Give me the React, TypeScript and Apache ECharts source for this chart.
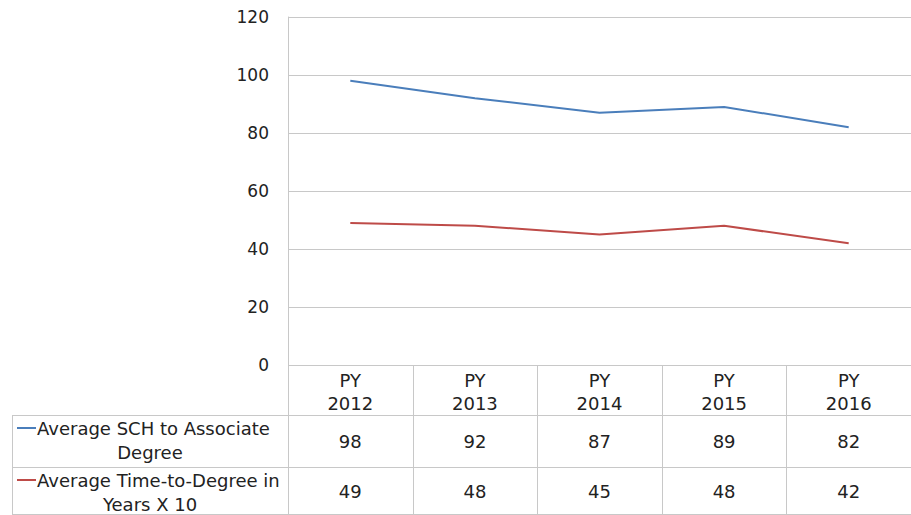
import React, { useEffect, useRef } from "react";
import * as echarts from "echarts";

const categories = ["PY\n2012", "PY\n2013", "PY\n2014", "PY\n2015", "PY\n2016"];
const sch = [98, 92, 87, 89, 82];
const ttd = [49, 48, 45, 48, 42];
const seriesNames = ["Average SCH to Associate Degree", "Average Time-to-Degree in Years X 10"];
const labelLines = [["Average SCH to Associate", "Degree"], ["Average Time-to-Degree in", "Years X 10"]];
const colors = ["#4a7ebb", "#be4b48"];

const W = 911, H = 515;
const GL = 288, GR = 911, GT = 17, GB = 365;
const ROW1 = 415, ROW2 = 467, TL = 12;
const FONT = "'DejaVu Sans', sans-serif";
const GRID_C = "#c8c8c8";
const TXT = "#222";

export default function App() {
  const ref = useRef<HTMLDivElement>(null);
  useEffect(() => {
    const chart = echarts.init(ref.current!, null, { renderer: "svg" });
    const n = categories.length;
    const cw = (GR - GL) / n;
    const g: any[] = [];
    const line = (x1: number, y1: number, x2: number, y2: number) =>
      g.push({ type: "line", shape: { x1, y1, x2, y2 }, style: { stroke: GRID_C, lineWidth: 1 }, silent: true });
    for (let i = 0; i <= n; i++) {
      const x = Math.round(GL + i * cw) + 0.5;
      line(x, GB, x, H);
    }
    line(TL + 0.5, ROW1, TL + 0.5, H);
    line(TL, ROW1 + 0.5, W, ROW1 + 0.5);
    line(TL, ROW2 + 0.5, W, ROW2 + 0.5);
    line(TL, H - 0.5, W, H - 0.5);
    const rows = [sch, ttd];
    const rowTops = [ROW1, ROW2];
    const rowBots = [ROW2, H];
    rows.forEach((vals, r) => {
      const cy = (rowTops[r] + rowBots[r]) / 2;
      vals.forEach((v, i) => {
        g.push({
          type: "text",
          x: GL + (i + 0.5) * cw,
          y: cy,
          style: { text: String(v), fill: TXT, font: `18px ${FONT}`, textAlign: "center", textVerticalAlign: "middle" },
        });
      });
      g.push({
        type: "line",
        shape: { x1: 17, y1: rowTops[r] + 13, x2: 36, y2: rowTops[r] + 13 },
        style: { stroke: colors[r], lineWidth: 2 },
      });
      g.push({
        type: "text",
        x: 37,
        y: rowTops[r] + 13,
        style: { text: labelLines[r][0], fill: TXT, font: `18px ${FONT}`, textAlign: "left", textVerticalAlign: "middle" },
      });
      g.push({
        type: "text",
        x: (TL + GL) / 2,
        y: rowTops[r] + 37,
        style: { text: labelLines[r][1], fill: TXT, font: `18px ${FONT}`, textAlign: "center", textVerticalAlign: "middle" },
      });
    });

    chart.setOption({
      animation: false,
      grid: { left: GL, right: W - GR, top: GT, bottom: H - GB, containLabel: false },
      xAxis: {
        type: "category",
        data: categories,
        boundaryGap: true,
        axisLine: { show: false },
        axisTick: { show: false },
        axisLabel: { color: TXT, fontFamily: FONT, fontSize: 18, lineHeight: 23, margin: 4, interval: 0 },
      },
      yAxis: {
        type: "value",
        min: 0,
        max: 120,
        interval: 20,
        axisLine: { show: true, lineStyle: { color: GRID_C } },
        axisTick: { show: false },
        axisLabel: { color: TXT, fontFamily: FONT, fontSize: 17, margin: 19 },
        splitLine: { lineStyle: { color: GRID_C } },
      },
      series: [
        { name: seriesNames[0], type: "line", data: sch, showSymbol: false, lineStyle: { color: colors[0], width: 2 }, itemStyle: { color: colors[0] } },
        { name: seriesNames[1], type: "line", data: ttd, showSymbol: false, lineStyle: { color: colors[1], width: 2 }, itemStyle: { color: colors[1] } },
      ],
      graphic: g,
    });
    return () => chart.dispose();
  }, []);
  return <div ref={ref} style={{ width: W, height: H, position: "absolute", left: 0, top: 0 }} />;
}
